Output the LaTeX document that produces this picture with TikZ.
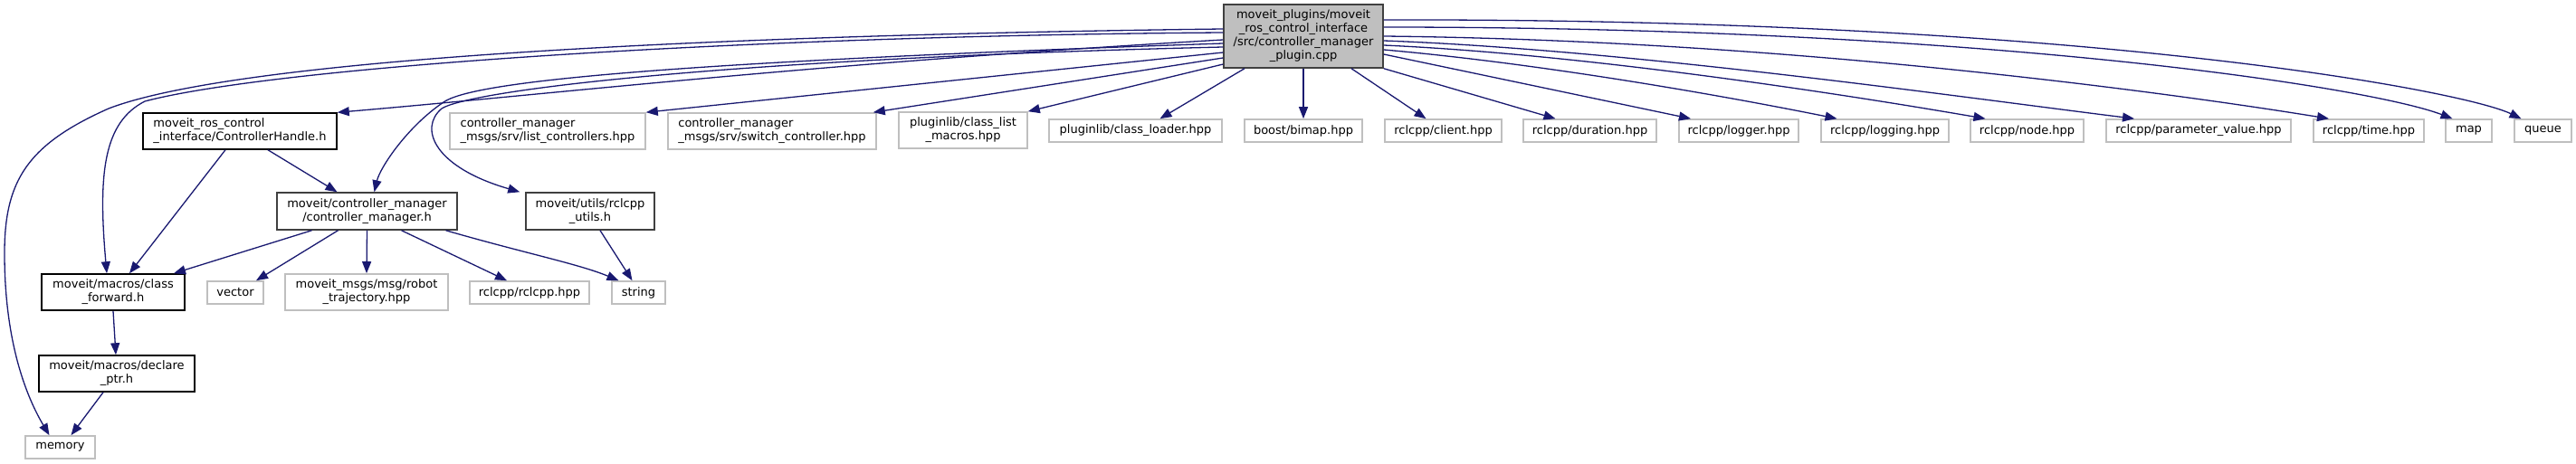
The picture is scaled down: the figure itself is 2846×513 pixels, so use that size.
\documentclass[tikz,border=0pt]{standalone}
\usepackage{fontspec}
\setmainfont{DejaVu Sans}
\usetikzlibrary{arrows.meta}
\definecolor{edgeblue}{HTML}{191970}
\definecolor{greyline}{HTML}{BFBFBF}
\definecolor{mainfill}{HTML}{BFBFBF}
\definecolor{mainline}{HTML}{404040}
\begin{document}
\begin{tikzpicture}[x=1pt,y=-1pt,
 every node/.style={font=\fontsize{13pt}{15pt}\selectfont, inner sep=0pt},
 docbox/.style={draw=black, line width=1.5pt, fill=white, align=center},
 extbox/.style={draw=greyline, line width=1.6pt, fill=white, align=center},
 incl/.style={draw=edgeblue, line width=1.3pt, -{Triangle[length=13pt,width=10pt]}}]
\useasboundingbox (0,0) rectangle (2846,513);
% main
\node[draw=mainline, line width=1.5pt, fill=mainfill, align=center, minimum width=176pt, minimum height=70pt] (main) at (1440,40)
 {moveit\_plugins/moveit\\\_ros\_control\_interface\\/src/controller\_manager\\\_plugin.cpp};
% row 1
\node[docbox, align=left, minimum width=214pt, minimum height=40pt] (ch) at (265,145) {moveit\_ros\_control\\\_interface/ControllerHandle.h};
\node[extbox, align=left, minimum width=216pt, minimum height=40pt] (lc) at (605,145) {controller\_manager\\\_msgs/srv/list\_controllers.hpp};
\node[extbox, align=left, minimum width=230pt, minimum height=40pt] (sw) at (853,145) {controller\_manager\\\_msgs/srv/switch\_controller.hpp};
\node[extbox, minimum width=142pt, minimum height=40pt] (clm) at (1064,144) {pluginlib/class\_list\\\_macros.hpp};
\node[extbox, minimum width=191pt, minimum height=25pt] (cld) at (1254.5,144.5) {pluginlib/class\_loader.hpp};
\node[extbox, minimum width=130pt, minimum height=25pt] (bim) at (1440,144.5) {boost/bimap.hpp};
\node[extbox, minimum width=129pt, minimum height=25pt] (cli) at (1594.5,144.5) {rclcpp/client.hpp};
\node[extbox, minimum width=147pt, minimum height=25pt] (dur) at (1756.5,144.5) {rclcpp/duration.hpp};
\node[extbox, minimum width=132pt, minimum height=25pt] (lgr) at (1921,144.5) {rclcpp/logger.hpp};
\node[extbox, minimum width=141pt, minimum height=25pt] (lgg) at (2082.5,144.5) {rclcpp/logging.hpp};
\node[extbox, minimum width=125pt, minimum height=25pt] (nod) at (2239.5,144.5) {rclcpp/node.hpp};
\node[extbox, minimum width=204pt, minimum height=25pt] (par) at (2429,144.5) {rclcpp/parameter\_value.hpp};
\node[extbox, minimum width=122pt, minimum height=25pt] (tim) at (2617,144.5) {rclcpp/time.hpp};
\node[extbox, minimum width=51pt, minimum height=25pt] (map) at (2727.5,144.5) {map};
\node[extbox, minimum width=63pt, minimum height=25pt] (que) at (2809.5,144.5) {queue};
% row 2
\node[draw=mainline, line width=1.5pt, fill=white, align=center, minimum width=199pt, minimum height=41pt] (cm) at (405.5,233.5) {moveit/controller\_manager\\/controller\_manager.h};
\node[draw=mainline, line width=1.5pt, fill=white, align=center, minimum width=142pt, minimum height=41pt] (rcu) at (652,233.5) {moveit/utils/rclcpp\\\_utils.h};
% row 3
\node[docbox, minimum width=158pt, minimum height=40pt] (cf) at (125,323) {moveit/macros/class\\\_forward.h};
\node[extbox, minimum width=62pt, minimum height=25pt] (vec) at (260,323.5) {vector};
\node[extbox, minimum width=180pt, minimum height=40pt] (rt) at (405,323) {moveit\_msgs/msg/robot\\\_trajectory.hpp};
\node[extbox, minimum width=132pt, minimum height=25pt] (rcl) at (585,323.5) {rclcpp/rclcpp.hpp};
\node[extbox, minimum width=59pt, minimum height=25pt] (str) at (705.5,323.5) {string};
% row 4/5
\node[docbox, minimum width=172pt, minimum height=40pt] (dp) at (129,413) {moveit/macros/declare\\\_ptr.h};
\node[extbox, minimum width=77pt, minimum height=25pt] (mem) at (66.5,494.5) {memory};
% edges from main, left side
\draw[incl] ([yshift=8pt]main.west) .. controls (700,40) and (250,70) .. (120,120)
  .. controls (30,160) and (5,200) .. (5,280) .. controls (5,380) and (30,440) .. ([xshift=-12pt]mem.north);
\draw[incl] ([yshift=4pt]main.west) .. controls (800,40) and (300,75) .. (160,112)
  .. controls (115,135) and (108,190) .. ([xshift=-7pt]cf.north);
\draw[incl] ([yshift=-4pt]main.west) .. controls (900,70) and (600,105) .. (ch.north east);
\draw[incl] ([yshift=-8pt]main.west) .. controls (700,70) and (520,92) .. (490,113)
  .. controls (450,140) and (420,185) .. ([xshift=8pt]cm.north);
\draw[incl] ([yshift=-12pt]main.west) .. controls (800,65) and (520,100) .. (488,120)
  .. controls (462,142) and (480,185) .. ([xshift=-6pt]rcu.north west);
\draw[incl] ([yshift=-18pt]main.west) -- (lc.north east);
\draw[incl] ([yshift=-24pt]main.west) -- ([xshift=-4pt]sw.north east);
\draw[incl] ([yshift=-31pt]main.west) -- (clm.north east);
% bottom
\draw[incl] ([xshift=-65pt]main.south) -- ([xshift=27pt]cld.north);
\draw[incl] (main.south) -- (bim.north);
\draw[incl] ([xshift=53pt]main.south) -- ([xshift=-19pt]cli.north);
\draw[incl] (main.south east) -- ([xshift=-38pt]dur.north);
% right side
\draw[incl] ([yshift=-20pt]main.east) -- ([xshift=-53pt]lgr.north);
\draw[incl] ([yshift=-15pt]main.east) .. controls (1700,70) and (1900,105) .. ([xshift=-53pt]lgg.north);
\draw[incl] ([yshift=-10pt]main.east) .. controls (1750,60) and (2030,103) .. ([xshift=-46pt]nod.north);
\draw[incl] ([yshift=-5pt]main.east) .. controls (1800,55) and (2163,107) .. ([xshift=-71pt]par.north);
\draw[incl] (main.east) .. controls (2000,45) and (2430,108) .. ([xshift=-44pt]tim.north);
\draw[incl] ([yshift=10pt]main.east) .. controls (2200,30) and (2620,97) .. ([xshift=-18pt]map.north);
\draw[incl] ([yshift=18pt]main.east) .. controls (2300,20) and (2720,100) .. ([xshift=-24pt]que.north);
% second level
\draw[incl] ([xshift=31pt]ch.south) -- ([xshift=-33pt]cm.north);
\draw[incl] ([xshift=-16pt]ch.south) -- ([xshift=18pt]cf.north);
\draw[incl] ([xshift=-61pt]cm.south) -- ([xshift=67pt]cf.north);
\draw[incl] ([xshift=-32pt]cm.south) -- ([xshift=23pt]vec.north);
\draw[incl] (cm.south) -- (rt.north);
\draw[incl] ([xshift=38pt]cm.south) -- ([xshift=-25pt]rcl.north);
\draw[incl] ([xshift=87pt]cm.south) .. controls (580,280) and (640,292) .. ([xshift=-22pt]str.north);
\draw[incl] ([xshift=11pt]rcu.south) -- ([xshift=-7pt]str.north);
\draw[incl] (cf.south) -- ([xshift=-1pt]dp.north);
\draw[incl] ([xshift=-15pt]dp.south) -- ([xshift=12pt]mem.north);
\end{tikzpicture}
\end{document}
